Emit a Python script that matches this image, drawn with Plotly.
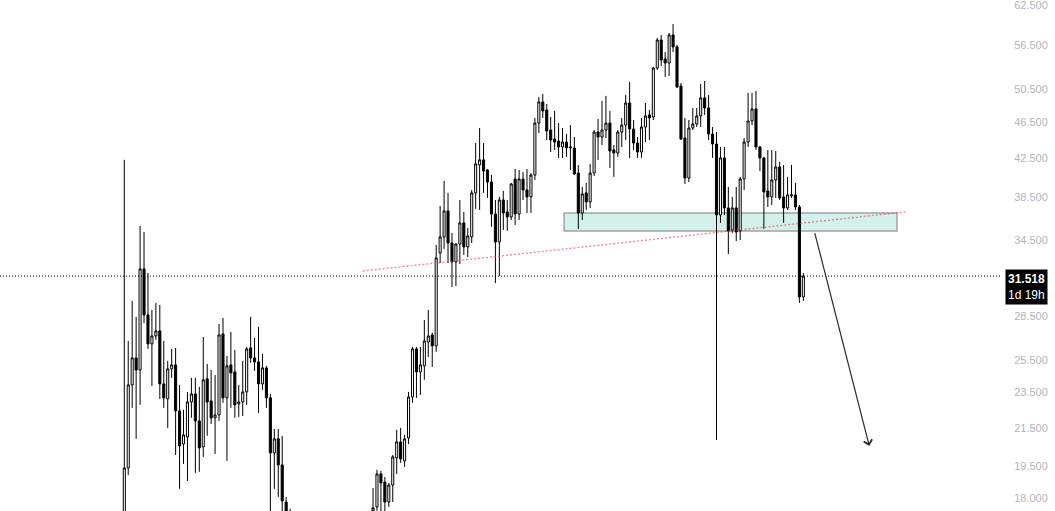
import math
import plotly.graph_objects as go

# ---- candle data (prices) ----
open_ = [
    16.8, 19.42, 23.95, 25.64, 24.87, 32.10, 28.58, 26.56, 27.10, 27.45,
    24.01, 23.12, 24.94, 25.19, 22.43, 20.63, 21.00, 22.94, 23.41, 21.87,
    20.48, 24.32, 23.00, 22.04, 22.20, 27.24, 23.18, 25.19, 24.75, 22.83,
    22.94, 23.53, 26.29, 25.64, 25.38, 24.01, 25.00, 23.18, 20.17, 20.90,
    19.57, 17.82, 16.90, 16.3, 15.8, 16.1, 15.4, 14.9, 15.1, 14.8,
    14.3, 14.7, 15.0, 14.4, 14.6, 15.2, 15.0, 15.6, 15.4, 16.0,
    15.8, 16.4, 16.7, 17.43, 17.60, 19.13, 18.74, 17.82, 18.60, 19.92,
    20.74, 19.77, 20.95, 23.23, 26.23, 24.75, 25.13, 26.69, 27.17, 26.43,
    33.42, 34.80, 37.16, 34.27, 32.67, 34.18, 36.05, 33.93, 34.80, 38.89,
    41.73, 42.27, 41.21, 39.98, 36.87, 34.36, 38.20, 37.06, 36.60, 40.28,
    36.87, 40.28, 39.18, 38.50, 40.69, 46.39, 48.93, 47.95, 45.58, 44.56,
    44.33, 43.67, 44.22, 43.56, 43.56, 40.89, 36.97, 38.89, 38.01, 40.89,
    45.35, 44.78, 45.58, 46.39, 43.34, 43.01, 45.35, 46.16, 48.80, 45.70,
    44.11, 43.12, 45.93, 47.35, 47.11, 53.31, 57.21, 54.53, 53.98, 57.94,
    56.22, 50.94, 44.67, 40.38, 45.81, 46.28, 47.23, 49.43, 48.19, 45.12,
    44.00, 36.78, 42.48, 37.44, 35.42, 37.44, 35.33, 40.28, 44.22, 46.63,
    48.07, 43.67, 42.48, 39.08, 38.50, 40.18, 41.52, 38.50, 37.44, 38.60,
    38.69, 37.53, 29.91,
]
high = [
    42.27, 26.76, 29.61, 28.44, 35.78, 35.24, 31.77, 28.94, 29.46, 29.31,
    26.76, 25.45, 26.23, 26.29, 23.95, 22.49, 23.53, 24.38, 24.38, 23.83,
    27.03, 25.25, 24.87, 24.56, 27.93, 28.36, 25.77, 27.38, 26.16, 23.95,
    25.45, 26.36, 28.44, 26.96, 27.72, 25.90, 25.13, 23.41, 21.43, 21.43,
    21.06, 18.05, 17.52, 16.6, 16.4, 16.3, 15.7, 15.3, 15.5, 15.0,
    14.9, 15.2, 15.1, 14.8, 15.4, 15.6, 15.8, 16.0, 16.2, 16.5,
    16.6, 17.0, 17.3, 18.46, 19.33, 19.28, 18.98, 18.70, 20.07, 21.38,
    21.49, 21.11, 23.53, 26.36, 26.36, 26.36, 28.22, 28.94, 27.31, 34.10,
    37.62, 40.08, 38.89, 35.15, 34.27, 38.20, 37.06, 35.60, 39.18, 44.11,
    45.81, 44.11, 41.31, 40.69, 38.20, 38.50, 39.08, 38.20, 39.88, 41.31,
    41.21, 41.00, 41.31, 40.89, 46.99, 49.55, 49.93, 48.68, 47.11, 47.83,
    46.39, 45.81, 45.12, 46.16, 44.78, 41.73, 39.48, 39.88, 41.84, 45.58,
    46.87, 49.05, 49.68, 47.83, 43.89, 45.58, 46.99, 49.80, 51.46, 46.75,
    44.78, 46.99, 48.80, 47.95, 53.44, 57.50, 57.94, 55.51, 58.23, 59.57,
    56.50, 51.33, 46.99, 46.75, 48.19, 48.19, 51.20, 51.59, 49.80, 45.93,
    45.35, 43.67, 43.67, 39.48, 38.50, 39.48, 40.49, 44.67, 50.05, 50.05,
    50.31, 43.78, 42.59, 43.34, 43.34, 43.23, 42.06, 41.73, 40.49, 41.73,
    39.88, 37.72, 31.77,
]
low = [
    16.5, 19.08, 22.60, 20.90, 22.77, 28.00, 26.23, 23.89, 26.83, 23.12,
    22.60, 21.49, 24.38, 20.07, 18.42, 19.62, 18.79, 22.04, 19.18, 19.23,
    19.97, 21.06, 21.70, 20.12, 21.87, 22.89, 19.77, 22.60, 22.04, 22.09,
    22.14, 22.77, 25.32, 24.81, 22.31, 23.65, 22.60, 17.20, 18.42, 18.05,
    17.00, 16.60, 16.00, 15.5, 15.4, 15.2, 14.6, 14.4, 14.7, 14.0,
    14.1, 14.5, 14.2, 13.9, 14.5, 14.8, 14.9, 15.2, 15.3, 15.6,
    15.7, 16.1, 16.5, 17.0, 17.43, 17.30, 17.30, 17.60, 17.82, 19.13,
    19.67, 19.47, 20.63, 22.89, 23.18, 23.35, 24.26, 25.70, 25.06, 26.03,
    32.58, 33.76, 32.58, 30.67, 30.74, 32.50, 33.25, 33.08, 34.27, 37.35,
    37.25, 38.89, 38.40, 35.69, 30.98, 31.53, 35.42, 35.33, 36.32, 35.87,
    36.32, 38.20, 36.97, 36.97, 40.18, 45.24, 46.99, 44.44, 43.12, 43.34,
    42.48, 42.48, 42.59, 41.21, 40.69, 35.51, 36.32, 37.25, 37.44, 40.59,
    42.27, 43.89, 44.67, 41.42, 40.49, 42.59, 43.67, 44.44, 42.48, 43.34,
    42.48, 42.48, 44.22, 44.44, 46.75, 53.04, 53.58, 52.12, 52.25, 55.51,
    50.68, 44.44, 39.78, 39.98, 45.58, 45.93, 45.93, 47.35, 44.44, 42.48,
    20.84, 36.05, 36.78, 33.33, 35.15, 34.44, 34.53, 39.18, 43.67, 46.16,
    43.34, 41.10, 35.51, 37.53, 37.72, 38.40, 38.20, 36.05, 37.25, 38.40,
    37.25, 29.46, 29.61,
]
close = [
    19.42, 23.95, 25.64, 24.87, 32.10, 28.58, 26.56, 27.10, 27.45, 24.01,
    23.18, 24.94, 25.19, 22.43, 20.53, 21.11, 22.94, 23.41, 21.87, 20.43,
    24.26, 22.94, 22.04, 22.20, 27.17, 23.18, 25.13, 24.69, 22.77, 22.94,
    23.53, 26.23, 25.64, 25.38, 24.01, 25.00, 23.18, 20.17, 20.90, 19.57,
    17.87, 16.90, 16.30, 15.8, 16.1, 15.4, 14.9, 15.1, 14.8, 14.3,
    14.7, 15.0, 14.4, 14.6, 15.2, 15.0, 15.6, 15.4, 16.0, 15.8,
    16.4, 16.7, 17.1, 17.56, 19.13, 18.70, 17.82, 18.60, 19.97, 20.74,
    19.87, 20.90, 23.23, 26.23, 24.75, 25.19, 26.76, 27.10, 26.43, 33.00,
    34.80, 37.16, 34.27, 32.67, 34.18, 36.05, 33.93, 34.88, 38.89, 41.84,
    42.27, 41.10, 39.98, 36.87, 34.36, 38.20, 36.97, 36.60, 39.78, 36.87,
    40.28, 39.18, 38.50, 40.69, 46.39, 48.93, 47.83, 45.46, 44.44, 44.22,
    43.67, 44.22, 43.56, 43.67, 40.79, 36.97, 38.79, 38.01, 40.89, 45.35,
    44.78, 45.58, 46.39, 43.23, 43.01, 45.35, 46.16, 48.80, 45.70, 44.11,
    43.12, 45.93, 47.23, 46.99, 53.31, 57.21, 54.39, 53.98, 57.94, 56.22,
    50.81, 44.56, 40.38, 45.81, 46.28, 47.23, 49.43, 48.19, 45.12, 44.00,
    36.78, 42.48, 37.44, 35.33, 37.44, 35.24, 40.28, 44.22, 46.63, 48.07,
    43.67, 42.48, 38.99, 38.50, 40.18, 41.52, 38.40, 37.44, 38.69, 38.69,
    37.53, 29.91, 31.518,
]
bar_index = list(range(len(close)))

# ---- axis ticks ----
tick_values = [18.0, 19.5, 21.5, 23.5, 25.5, 28.5, 34.5, 38.5, 42.5, 46.5, 50.5, 56.5, 62.5]
tick_labels = ["18.000", "19.500", "21.500", "23.500", "25.500", "28.500", "34.500",
               "38.500", "42.500", "46.500", "50.500", "56.500", "62.500"]
price_range = [17.42, 63.29]
bar_range = [-31.48, 222.06]

# ---- last price label ----
last_price = 31.518
last_price_text = "31.518"
countdown_text = "1d 19h"

# ---- drawings ----
zone_bars = [111.4, 195.7]
zone_prices = [35.33, 36.97]
trend_bars = [60.4, 198.4]
trend_prices = [31.93, 37.09]
arrow_bars = [174.8, 188.7]
arrow_prices = [35.27, 20.53]

fig = go.Figure()
fig.add_trace(go.Candlestick(
    x=bar_index, open=open_, high=high, low=low, close=close,
    increasing=dict(line=dict(color="#000000", width=1), fillcolor="#ffffff"),
    decreasing=dict(line=dict(color="#000000", width=1), fillcolor="#000000"),
    whiskerwidth=0, hoverinfo="skip",
))

# demand/supply zone
fig.add_shape(type="rect", xref="x", yref="y",
              x0=zone_bars[0], x1=zone_bars[1], y0=zone_prices[0], y1=zone_prices[1],
              fillcolor="#d3f1ec", line=dict(color="#a3a3a3", width=1.5), layer="below")
# trend line (dotted red)
fig.add_shape(type="line", xref="x", yref="y",
              x0=trend_bars[0], x1=trend_bars[1], y0=trend_prices[0], y1=trend_prices[1],
              line=dict(color="rgba(242,70,85,0.7)", width=1.3, dash="2px,2px"), layer="above")
# last price dotted line
fig.add_shape(type="line", xref="paper", yref="y", x0=0, x1=1,
              y0=last_price, y1=last_price,
              line=dict(color="#000000", width=1, dash="1px,2px"), layer="above")

# projection arrow
fig.add_annotation(x=arrow_bars[1], y=math.log10(arrow_prices[1]),
                   ax=arrow_bars[0], ay=math.log10(arrow_prices[0]),
                   xref="x", yref="y", axref="x", ayref="y",
                   text="", showarrow=True, arrowhead=4, arrowsize=1.4,
                   arrowwidth=1.2, arrowcolor="#2a2a2a")

# last price tag
fig.add_annotation(xref="paper", yref="y", x=1.004, y=math.log10(last_price),
                   xanchor="left", yanchor="top", yshift=7,
                   text="<b>" + last_price_text + "</b><br>" + countdown_text,
                   showarrow=False, align="left", bgcolor="#000000",
                   borderpad=2, font=dict(color="#ffffff", size=12, family="Liberation Sans"))

fig.update_layout(
    width=1055, height=511,
    margin=dict(l=0, r=54, t=0, b=0),
    paper_bgcolor="#ffffff", plot_bgcolor="#ffffff",
    showlegend=False, boxgap=0.25,
    xaxis=dict(visible=False, range=bar_range, rangeslider=dict(visible=False)),
    yaxis=dict(type="log", side="right",
               range=[math.log10(price_range[0]), math.log10(price_range[1])],
               tickvals=tick_values, ticktext=tick_labels,
               showgrid=False, zeroline=False, showline=False,
               ticks="outside", ticklen=10, tickcolor="rgba(0,0,0,0)",
               ticklabeloverflow="allow",
               tickfont=dict(color="#b2b5be", size=11, family="Liberation Sans")),
)

fig.write_html("out.html", config={"displayModeBar": False},
               post_script="document.body.style.margin='0';")
